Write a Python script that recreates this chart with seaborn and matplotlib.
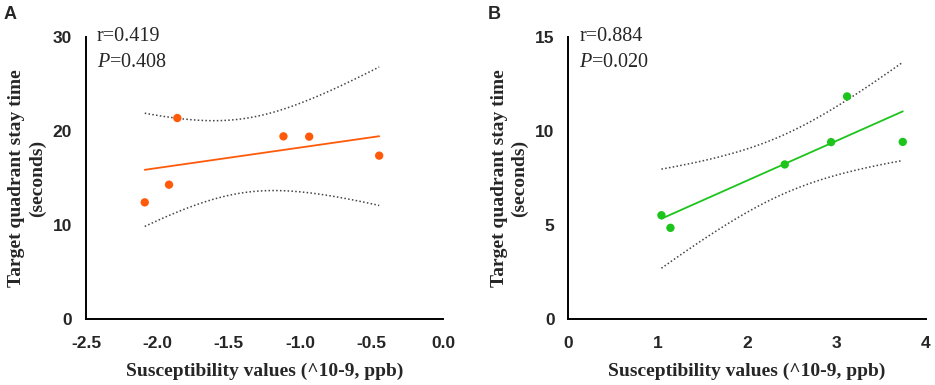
import numpy as np
import pandas as pd
import seaborn as sns
from matplotlib import pyplot as plt

# values
a_x = [-2.089, -1.919, -1.861, -1.118, -0.938, -0.448]
a_y = [12.41, 14.29, 21.38, 19.43, 19.40, 17.38]
b_x = [1.041, 1.142, 2.422, 2.941, 3.120, 3.744]
b_y = [5.52, 4.85, 8.22, 9.41, 11.84, 9.42]

a_stats = ["r=0.419", "0.408"]
b_stats = ["r=0.884", "0.020"]

a_xticks = [-2.5, -2.0, -1.5, -1.0, -0.5, 0.0]
a_yticks = [0, 10, 20, 30]
b_xticks = [0, 1, 2, 3, 4]
b_yticks = [0, 5, 10, 15]

XLABEL = "Susceptibility values (^10-9, ppb)"
YLABEL = "Target quadrant stay time\n(seconds)"

SERIF = "Liberation Serif"
SANS = "Liberation Sans"

T_975_DF4 = 2.776


def ci_band(x, y):
    # 95% confidence band of the fitted mean, as in the original figure
    x = np.asarray(x)
    y = np.asarray(y)
    n = len(x)
    slope, intercept = np.polyfit(x, y, 1)
    resid = y - (slope * x + intercept)
    s = np.sqrt(np.sum(resid ** 2) / (n - 2))
    grid = np.linspace(x.min(), x.max(), 100)
    fit = slope * grid + intercept
    half = T_975_DF4 * s * np.sqrt(1 / n + (grid - x.mean()) ** 2 / np.sum((x - x.mean()) ** 2))
    return pd.DataFrame({"x": grid, "fit": fit, "lo": fit - half, "hi": fit + half})


def draw_panel(ax, x, y, color, xticks, yticks, stats):
    df = pd.DataFrame({"x": x, "y": y})
    band = ci_band(x, y)

    sns.lineplot(data=band, x="x", y="fit", color=color, linewidth=1.3, ax=ax)
    sns.lineplot(data=band, x="x", y="lo", color="#444444", linestyle=(0, (1, 1.5)), linewidth=1.1, ax=ax)
    sns.lineplot(data=band, x="x", y="hi", color="#444444", linestyle=(0, (1, 1.5)), linewidth=1.1, ax=ax)
    sns.scatterplot(data=df, x="x", y="y", color=color, s=36, edgecolor="none", ax=ax, zorder=3)

    ax.set_xlim(xticks[0], xticks[-1])
    ax.set_ylim(yticks[0], yticks[-1])
    ax.set_xticks(xticks)
    ax.set_yticks(yticks)
    if isinstance(xticks[0], float):
        ax.set_xticklabels([f"{t:.1f}" for t in xticks])
    for lab in ax.get_xticklabels() + ax.get_yticklabels():
        lab.set_fontfamily(SANS)
        lab.set_fontweight("bold")
        lab.set_fontsize(12.5)
    ax.tick_params(direction="out", length=7, width=1.4, color="black")
    ax.tick_params(axis="x", pad=5)
    ax.tick_params(axis="y", pad=3)

    sns.despine(ax=ax)
    for side in ["left", "bottom"]:
        ax.spines[side].set_linewidth(1.4)
        ax.spines[side].set_color("black")

    ax.set_xlabel(XLABEL, fontfamily=SERIF, fontweight="bold", fontsize=14, labelpad=9)
    ax.set_ylabel(YLABEL, fontfamily=SERIF, fontweight="bold", fontsize=14, labelpad=5,
                  linespacing=1.25)

    ax.text(0.03, 1.0, stats[0], transform=ax.transAxes, fontfamily=SERIF, fontsize=14.5, va="center")
    ax.text(0.03, 0.91, "$\\it{P}$=" + stats[1], transform=ax.transAxes, fontfamily=SERIF,
            fontsize=14.5, va="center")
    return ax


sns.set_style("white")
plt.rcParams["mathtext.fontset"] = "custom"
plt.rcParams["mathtext.it"] = "Liberation Serif:italic"
plt.rcParams["font.family"] = [SERIF, "DejaVu Sans"]

fig = plt.figure(figsize=(9.35, 3.85), dpi=100)
ax_a = fig.add_axes([0.092, 0.1714, 0.382, 0.7325])
ax_b = fig.add_axes([0.608, 0.1714, 0.382, 0.7325])

draw_panel(ax_a, a_x, a_y, "#FF5A0A", a_xticks, a_yticks, a_stats)
draw_panel(ax_b, b_x, b_y, "#1CC41C", b_xticks, b_yticks, b_stats)

fig.text(0.004, 0.985, "A", fontfamily=SANS, fontweight="bold", fontsize=13, va="top")
fig.text(0.522, 0.985, "B", fontfamily=SANS, fontweight="bold", fontsize=13, va="top")

fig.savefig("out.png", dpi=100)
